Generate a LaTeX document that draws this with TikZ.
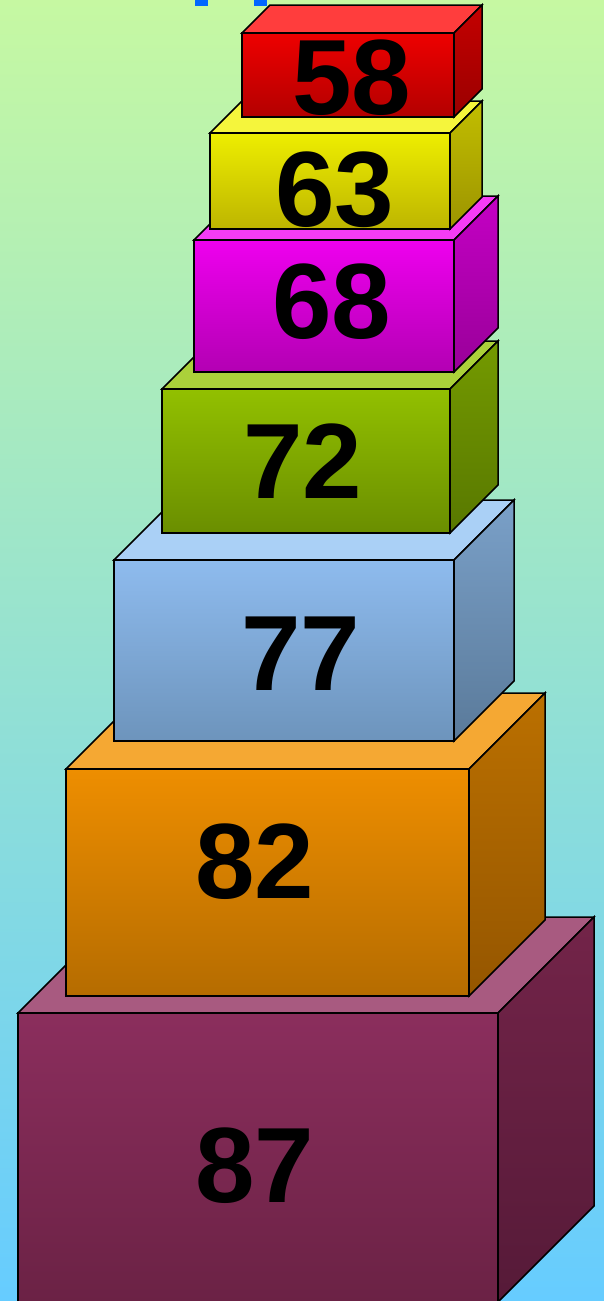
\documentclass[tikz,border=0pt]{standalone}
\usepackage{fontspec}
\setmainfont{Liberation Sans}
\definecolor{bgA}{HTML}{C6F8A2}
\definecolor{bgB}{HTML}{66CCFF}
\definecolor{markblue}{HTML}{0066FF}
% red
\definecolor{rdF1}{HTML}{EE0000}\definecolor{rdF2}{HTML}{B30000}\definecolor{rdTp}{HTML}{FF3D3D}\definecolor{rdS1}{HTML}{C40000}\definecolor{rdS2}{HTML}{9A0000}
% yellow
\definecolor{ylF1}{HTML}{EEEE00}\definecolor{ylF2}{HTML}{BDB500}\definecolor{ylTp}{HTML}{F5F53C}\definecolor{ylS1}{HTML}{C2BE00}\definecolor{ylS2}{HTML}{9C9400}
% magenta
\definecolor{mgF1}{HTML}{EE00EE}\definecolor{mgF2}{HTML}{B300B3}\definecolor{mgTp}{HTML}{F53CF5}\definecolor{mgS1}{HTML}{C400C4}\definecolor{mgS2}{HTML}{990099}
% green
\definecolor{grF1}{HTML}{92C000}\definecolor{grF2}{HTML}{6A8E00}\definecolor{grTp}{HTML}{ABD13A}\definecolor{grS1}{HTML}{749A00}\definecolor{grS2}{HTML}{587800}
% blue
\definecolor{blF1}{HTML}{8EBBEE}\definecolor{blF2}{HTML}{6D94BC}\definecolor{blTp}{HTML}{AAD0F6}\definecolor{blS1}{HTML}{7AA0C8}\definecolor{blS2}{HTML}{5A7A9A}
% orange
\definecolor{orF1}{HTML}{EE8E00}\definecolor{orF2}{HTML}{B56C00}\definecolor{orTp}{HTML}{F5A833}\definecolor{orS1}{HTML}{BB7000}\definecolor{orS2}{HTML}{955600}
% maroon
\definecolor{mrF1}{HTML}{8B2E5D}\definecolor{mrF2}{HTML}{6B2245}\definecolor{mrTp}{HTML}{A85A80}\definecolor{mrS1}{HTML}{732449}\definecolor{mrS2}{HTML}{561A38}
% #1 x1, #2 y1, #3 x2, #4 y2, #5 depth, #6 colour prefix, #7 label, #8 label centre
\newcommand{\tierbox}[8]{%
  \path[edge, fill=#6Tp] (#1,#2) -- ++(#5,-#5) -- ++({#3-#1},0) -- (#3,#2) -- cycle;
  \path[edge, top color=#6S1, bottom color=#6S2] (#3,#2) -- ++(#5,-#5) -- ++(0,{#4-#2}) -- (#3,#4) -- cycle;
  \path[edge, top color=#6F1, bottom color=#6F2] (#1,#2) rectangle (#3,#4);
  \node[numlabel] (n#7) at (#8) {#7};
}
\begin{document}
\begin{tikzpicture}[x=1pt,y=-1pt,
  edge/.style={draw=black, line width=1.5pt},
  numlabel/.style={font=\bfseries\fontsize{107}{107}\selectfont, inner sep=0pt, text=black}]
\useasboundingbox (0,0) rectangle (604,1301);
\clip (0,0) rectangle (604,1301);
\fill[top color=bgA, bottom color=bgB] (0,0) rectangle (604,1301);
\fill[markblue] (195,-2) rectangle (208,5.5);
\fill[markblue] (254,-2) rectangle (267,5.5);
\tierbox{18}{1013}{498}{1302}{96}{mr}{87}{255,1166}
\tierbox{66}{769}{469}{996}{76}{or}{82}{255,862}
\tierbox{114}{560}{454}{741}{60}{bl}{77}{301,654}
\tierbox{162}{389}{450}{533}{48}{gr}{72}{303,461.5}
\tierbox{194}{240}{454}{372}{44}{mg}{68}{332,302}
\tierbox{210}{133}{450}{229}{32}{yl}{63}{335,190}
\tierbox{242}{33}{454}{117}{28}{rd}{58}{352,77.5}
\end{tikzpicture}
\end{document}
